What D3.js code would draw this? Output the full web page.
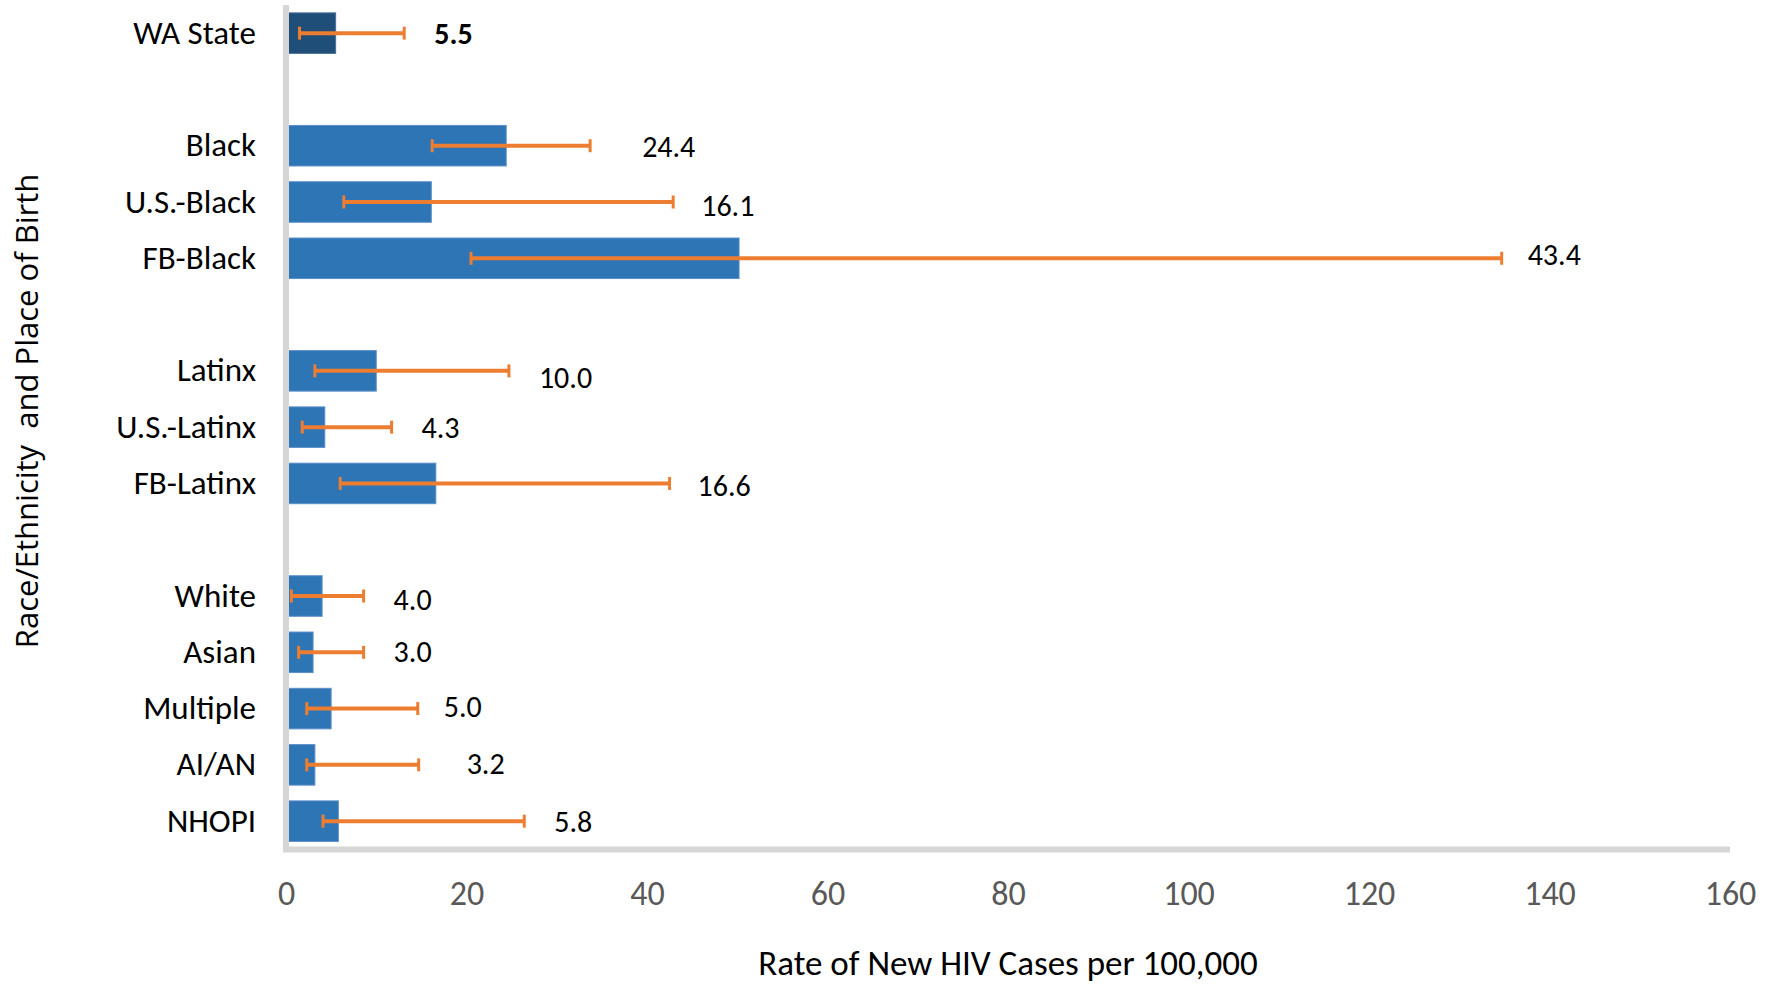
<!DOCTYPE html>
<html>
<head>
<meta charset="utf-8">
<script src="https://cdn.jsdelivr.net/npm/d3@7"></script>
<style>
  html, body { margin: 0; padding: 0; background: #ffffff; }
  svg { display: block; }
</style>
</head>
<body>
<svg id="chart" width="1775" height="985"></svg>
<script>
// ---------------- data ----------------
const categories = ["WA State", "Black", "U.S.-Black", "FB-Black", "Latinx", "U.S.-Latinx", "FB-Latinx",
                    "White", "Asian", "Multiple", "AI/AN", "NHOPI"];
const groupOf    = [0, 1, 1, 1, 2, 2, 2, 3, 3, 3, 3, 3];
const rates      = [5.5, 24.4, 16.1, 50.2, 10.0, 4.3, 16.6, 4.0, 3.0, 5.0, 3.2, 5.8];
const ciLow      = [1.5, 16.2, 6.4, 20.5, 3.2, 1.8, 6.0, 0.6, 1.4, 2.3, 2.3, 4.1];
const ciHigh     = [13.1, 33.7, 42.9, 134.7, 24.7, 11.7, 42.5, 8.6, 8.6, 14.6, 14.7, 26.4];
const valueLabels = ["5.5", "24.4", "16.1", "43.4", "10.0", "4.3", "16.6", "4.0", "3.0", "5.0", "3.2", "5.8"];
const xTicks     = [0, 20, 40, 60, 80, 100, 120, 140, 160];
const xTitle = "Rate of New HIV Cases per 100,000";
const yTitle = "Race/Ethnicity\u00a0 and Place of Birth";

// ---------------- layout (not data) ----------------
const labelNudge = [[0,0],[22,0],[-2,3],[-4,-4],[0,6],[0,0],[-2,2],[0,3],[0,-1],[-4,-3],[18,-2],[0,0]];

const svg = d3.select("#chart");
const W = 1775, H = 985;
svg.append("rect").attr("width", W).attr("height", H).attr("fill", "#fff");

const fontMain = "Carlito, Calibri, Lato, 'Open Sans', sans-serif";

// slots with gaps between groups
const slots = [];
categories.forEach((c, i) => {
  if (i > 0 && groupOf[i] !== groupOf[i - 1]) slots.push("__gap" + groupOf[i]);
  slots.push(c);
});

const x = d3.scaleLinear().domain([0, 160]).range([286, 1730]);
const y = d3.scaleBand().domain(slots).range([5, 849.3]).paddingInner(0.28).paddingOuter(0.14);

const rows = categories.map((c, i) => ({
  cat: c, rate: rates[i], lo: ciLow[i], hi: ciHigh[i], label: valueLabels[i], i
}));

// bars
svg.append("g").selectAll("rect").data(rows).join("rect")
  .attr("x", x(0))
  .attr("y", d => y(d.cat))
  .attr("width", d => x(d.rate) - x(0))
  .attr("height", y.bandwidth())
  .attr("fill", d => d.i === 0 ? "#1F4E79" : "#2E75B6")
  .attr("stroke", d => d.i === 0 ? "#4A6E94" : "#5B8FC8")
  .attr("stroke-width", 1);

// axis lines (L-shape, light gray)
const axisG = svg.append("g");
axisG.append("line")
  .attr("x1", x(0)).attr("x2", x(0))
  .attr("y1", 5).attr("y2", 849.5)
  .attr("stroke", "#D6D6D6").attr("stroke-width", 6);
axisG.append("line")
  .attr("x1", x(0) - 3).attr("x2", x(160))
  .attr("y1", 849.5).attr("y2", 849.5)
  .attr("stroke", "#D6D6D6").attr("stroke-width", 6);

// error bars
const eb = svg.append("g").attr("stroke", "#ED7D31").attr("stroke-width", 4);
rows.forEach(d => {
  const cy = y(d.cat) + y.bandwidth() / 2;
  eb.append("line").attr("x1", x(d.lo)).attr("x2", x(d.hi)).attr("y1", cy).attr("y2", cy);
  eb.append("line").attr("x1", x(d.lo)).attr("x2", x(d.lo)).attr("y1", cy - 6.5).attr("y2", cy + 6.5).attr("stroke-width", 3);
  eb.append("line").attr("x1", x(d.hi)).attr("x2", x(d.hi)).attr("y1", cy - 6.5).attr("y2", cy + 6.5).attr("stroke-width", 3);
});

// value labels
svg.append("g").selectAll("text").data(rows).join("text")
  .attr("x", d => x(d.hi) + 30 + labelNudge[d.i][0])
  .attr("y", d => y(d.cat) + y.bandwidth() / 2 + 11 + labelNudge[d.i][1])
  .attr("font-family", fontMain)
  .attr("font-size", 30)
  .attr("font-weight", d => d.i === 0 ? "bold" : "normal")
  .attr("fill", "#000")
  .text(d => d.label);

// category labels
svg.append("g").selectAll("text").data(rows).join("text")
  .attr("x", 256)
  .attr("y", d => y(d.cat) + y.bandwidth() / 2 + 10.5)
  .attr("text-anchor", "end")
  .attr("font-family", fontMain)
  .attr("font-size", 33)
  .attr("fill", "#000")
  .text(d => d.cat);

// x axis ticks
const xAxis = d3.axisBottom(x).tickValues(xTicks).tickSize(0).tickPadding(0).tickFormat(d3.format("d"));
const gx = svg.append("g").call(xAxis);
gx.select(".domain").remove();
gx.selectAll("text")
  .attr("y", 905)
  .attr("dy", null)
  .attr("font-family", fontMain)
  .attr("font-size", 34)
  .attr("fill", "#595959");

// axis titles
svg.append("text")
  .attr("x", (x.range()[0] + x.range()[1]) / 2)
  .attr("y", 975)
  .attr("text-anchor", "middle")
  .attr("font-family", fontMain)
  .attr("font-size", 35)
  .attr("fill", "#000")
  .text(xTitle);

svg.append("text")
  .attr("transform", "translate(38,411) rotate(-90)")
  .attr("text-anchor", "middle")
  .attr("font-family", "'Open Sans', sans-serif")
  .attr("font-size", 31)
  .attr("fill", "#000")
  .text(yTitle);
</script>
</body>
</html>
